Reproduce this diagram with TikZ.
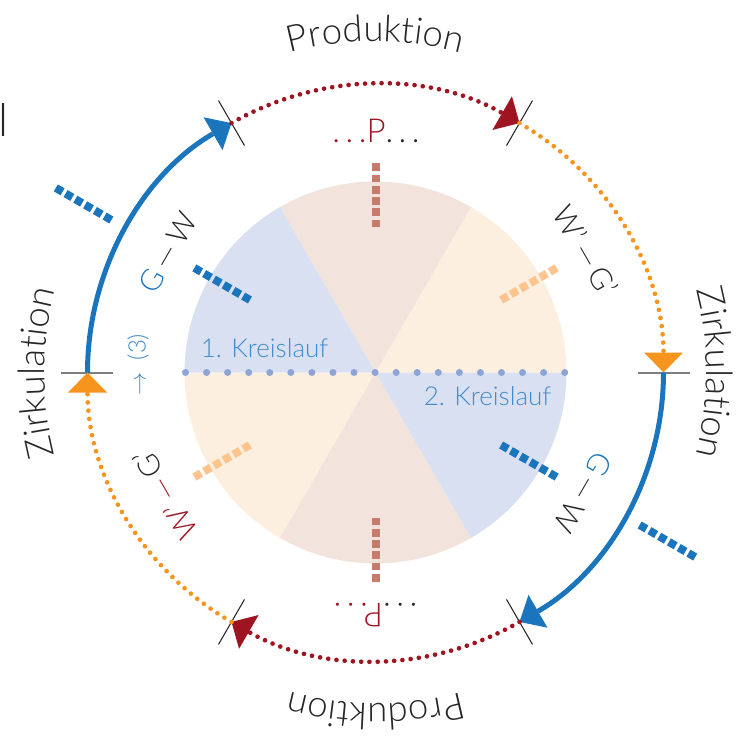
\documentclass[tikz,border=0pt]{standalone}
\usepackage{fontspec}
\IfFontExistsTF{Lato Light}{\setmainfont{Lato Light}}{\setmainfont{Lato}}
\usetikzlibrary{arrows.meta,decorations.text}
\definecolor{cblue}{HTML}{1B75BC}
\definecolor{cred}{HTML}{9F1421}
\definecolor{corange}{HTML}{F7941D}
\definecolor{sblue}{HTML}{D9E0F1}
\definecolor{sbeige}{HTML}{F2E3DC}
\definecolor{sorange}{HTML}{FDEFDF}
\definecolor{dorange}{HTML}{FDC48D}
\definecolor{dbrown}{HTML}{C77B6D}
\definecolor{dotblue}{HTML}{8DA5D5}
\definecolor{tblue}{HTML}{3F8BCB}
\definecolor{tgray}{HTML}{262626}
\definecolor{tickgray}{HTML}{7F7F7F}
\begin{document}
\begin{tikzpicture}[x=0.75pt,y=0.75pt,
  bluearc/.style={cblue, line width=3.75pt, -{Triangle[width=28.5pt,length=16pt,line width=0pt]}},
  dotarc/.style={#1, line width=3.5pt, line cap=round, dash pattern=on 0pt off 6.2pt, -{Triangle[width=29.25pt,length=15pt,line width=0pt]}},
  blacktick/.style={tgray, line width=0.8pt},
  graytick/.style={tickgray, line width=1.5pt},
  dashmark/.style={#1, line width=6pt, dash pattern=on 5.85pt off 2.6pt},
  dotline/.style={dotblue, line width=5.25pt, line cap=round, dash pattern=on 0pt off 15.8pt},
  lab/.style={font=\fontsize{22.5pt}{26pt}\selectfont, text=tgray, inner sep=0pt},
  kreis/.style={font=\fontsize{19.5pt}{23pt}\selectfont, text=tblue, inner sep=0pt, anchor=base},
  pnode/.style={font=\fontsize{24.75pt}{28pt}\selectfont, text=cred, inner sep=0pt, anchor=base},
  ringtext/.style={decorate, decoration={text along path, text align=center,
     text={|\fontsize{27.4pt}{32pt}\selectfont\color{tgray}|#1}}}
]
\useasboundingbox (-375.5,-362.5) rectangle (365.5,372.5);

% inner pie
\fill[sorange] (0,0) -- (0:191) arc[start angle=0, end angle=60, radius=191] -- cycle;
\fill[sbeige] (0,0) -- (60:191) arc[start angle=60, end angle=120, radius=191] -- cycle;
\fill[sblue] (0,0) -- (120:191) arc[start angle=120, end angle=180, radius=191] -- cycle;
\fill[sorange] (0,0) -- (180:191) arc[start angle=180, end angle=240, radius=191] -- cycle;
\fill[sbeige] (0,0) -- (240:191) arc[start angle=240, end angle=300, radius=191] -- cycle;
\fill[sblue] (0,0) -- (300:191) arc[start angle=300, end angle=360, radius=191] -- cycle;

\coordinate (dl) at (-190,0);
\coordinate (dr) at (190,0);
\draw[dotline] (dl) -- (dr);

\node[kreis] (k1) at (-111,15.5) {1. Kreislauf};
\node[kreis] (k2) at (112,-32.5) {2. Kreislauf};

% ring points
\foreach \a in {0,60,120,180,240,300} {\coordinate (t\a) at (\a:288);}

% ticks
\foreach \a in {60,120,240,300} {\draw[blacktick] (\a:262) -- (\a:314);}
\draw[graytick] (0:262) -- (0:314);
\draw[graytick] (180:262) -- (180:314);

% ring arcs
\draw[bluearc] (t180) arc[start angle=180, end angle=120, radius=288];
\draw[dotarc=cred] (t120) arc[start angle=120, end angle=60, radius=288];
\draw[dotarc=corange] (t60) arc[start angle=60, end angle=0, radius=288];
\draw[bluearc] (t0) arc[start angle=0, end angle=-60, radius=288];
\draw[dotarc=cred] (t300) arc[start angle=-60, end angle=-120, radius=288];
\draw[dotarc=corange] (t240) arc[start angle=-120, end angle=-180, radius=288];

% dashed marks
\draw[dashmark=cblue] (150:305) -- (150:370);
\draw[dashmark=cblue] (330:305) -- (330:370);
\draw[dashmark=cblue] (150:145) -- (150:210);
\draw[dashmark=cblue] (330:145) -- (330:210);
\draw[dashmark=dorange] (30:145) -- (30:210);
\draw[dashmark=dorange] (210:145) -- (210:210);
\draw[dashmark=dbrown] (90:145) -- (90:210);
\draw[dashmark=dbrown] (270:145) -- (270:210);

% labels on the ring
\node[lab, rotate=60] (gw1) at (150:240) {\textcolor{cblue}{G}\,—\,W};
\node[lab, rotate=-60] (wg1) at (30:243) {W'\,—\,G'};
\node[lab, rotate=120] (wg2) at (210:243) {\textcolor{cred}{W'\,—}\,G'};
\node[lab, rotate=-120] (gw2) at (330:240) {\textcolor{cblue}{G}\,—\,W};

\node[pnode] (p1) at (0.5,229.5) {.\,.\,.P\textcolor{tgray}{.\,.\,.}};
\node[pnode, rotate=180] (p2) at (0,-230.5) {\textcolor{tgray}{.\,.\,.}P.\,.\,.};

\node[font=\fontsize{18pt}{21pt}\selectfont, text=tblue, rotate=90, inner sep=0pt] (n3) at (-237.5,8) {$\rightarrow$\enspace(3)};

\node[font=\fontsize{34pt}{40pt}\selectfont, text=tgray, anchor=base west, inner sep=0pt] (l1) at (-377,235.5) {l};

% ring texts
\path[ringtext=Produktion] (115:331) arc[start angle=115, end angle=65, radius=331];
\path[ringtext=Zirkulation] (25:331) arc[start angle=25, end angle=-25, radius=331];
\path[ringtext=Produktion] (-65:331) arc[start angle=-65, end angle=-115, radius=331];
\path[ringtext=Zirkulation] (205:331) arc[start angle=205, end angle=155, radius=331];
\end{tikzpicture}
\end{document}
